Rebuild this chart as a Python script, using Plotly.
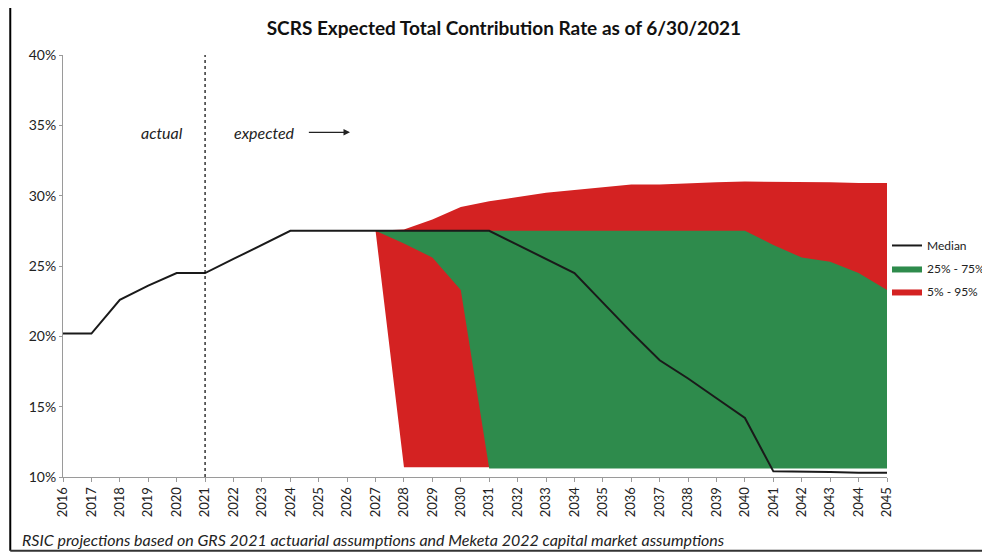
import plotly.graph_objects as go

# Data
years = list(range(2016, 2046))
median = [20.2, 20.2, 22.6, 23.6, 24.5, 24.5, 25.5, 26.5, 27.5, 27.5,
          27.5, 27.5, 27.5, 27.5, 27.5, 27.5, 26.5, 25.5, 24.5, 22.4,
          20.3, 18.3, 17.0, 15.6, 14.2, 10.4, 10.4, 10.35, 10.3, 10.3]

band_years = list(range(2027, 2046))
p5 = [27.5, 10.7, 10.7, 10.7, 10.7, 10.7, 10.7, 10.7, 10.7, 10.7,
      10.7, 10.7, 10.7, 10.7, 10.7, 10.7, 10.7, 10.7, 10.7]
p95 = [27.5, 27.6, 28.3, 29.2, 29.6, 29.9, 30.2, 30.4, 30.6, 30.8,
       30.8, 30.9, 30.95, 31.0, 31.0, 31.0, 30.95, 30.9, 30.9]
p25 = [27.5, 26.6, 25.6, 23.3, 10.6, 10.6, 10.6, 10.6, 10.6, 10.6,
       10.6, 10.6, 10.6, 10.6, 10.6, 10.6, 10.6, 10.6, 10.6]
p75 = [27.5, 27.5, 27.5, 27.5, 27.5, 27.5, 27.5, 27.5, 27.5, 27.5,
       27.5, 27.5, 27.5, 27.5, 26.5, 25.6, 25.3, 24.5, 23.3]

red = '#d42222'
green = '#2e8b4c'

fig = go.Figure()

# 5% - 95% band
fig.add_trace(go.Scatter(x=band_years, y=p5, mode='lines', line=dict(width=0, color=red),
                         showlegend=False, hoverinfo='skip', legendgroup='p5_95'))
fig.add_trace(go.Scatter(x=band_years, y=p95, mode='lines', line=dict(width=0, color=red),
                         fill='tonexty', fillcolor=red, name='5% - 95%', legendrank=3,
                         legendgroup='p5_95'))

# 25% - 75% band
fig.add_trace(go.Scatter(x=band_years, y=p25, mode='lines', line=dict(width=0, color=green),
                         showlegend=False, hoverinfo='skip', legendgroup='p25_75'))
fig.add_trace(go.Scatter(x=band_years, y=p75, mode='lines', line=dict(width=0, color=green),
                         fill='tonexty', fillcolor=green, name='25% - 75%', legendrank=2,
                         legendgroup='p25_75'))

# Median on top
fig.add_trace(go.Scatter(x=years, y=median, mode='lines', line=dict(width=2, color='#1a1a1a'),
                         name='Median', legendrank=1, legendgroup='med'))

# frame + dotted divider
fig.add_shape(type='line', xref='x', yref='y', x0=2021, x1=2021, y0=10, y1=40,
              line=dict(color='black', width=1.2, dash='dot'))
fig.add_shape(type='line', xref='paper', yref='paper', x0=-0.064, x1=-0.064, y0=-0.175, y1=1.12,
              line=dict(color='black', width=2))
fig.add_shape(type='line', xref='paper', yref='paper', x0=-0.064, x1=1.2, y0=-0.175, y1=-0.175,
              line=dict(color='#333333', width=2))
fig.add_shape(type='line', xref='paper', yref='paper', x0=-0.064, x1=1.2, y0=1.12, y1=1.12,
              line=dict(color='#aaaaaa', width=1))

fig.add_annotation(x=2019.5, y=34.5, text='<i>actual</i>', showarrow=False,
                   font=dict(size=16, color='#222222'))
fig.add_annotation(x=2023.1, y=34.5, text='<i>expected</i>', showarrow=False,
                   font=dict(size=16, color='#222222'))
fig.add_annotation(x=2026.1, y=34.5, ax=2024.6, ay=34.5, xref='x', yref='y', axref='x', ayref='y',
                   text='', showarrow=True, arrowhead=2, arrowsize=1, arrowwidth=1.3,
                   arrowcolor='#222222')
fig.add_annotation(xref='paper', yref='paper', x=-0.052, y=-0.149, xanchor='left', yanchor='middle',
                   text='<i>RSIC projections based on GRS 2021 actuarial assumptions and Meketa 2022 capital market assumptions</i>',
                   showarrow=False, font=dict(size=16, color='#222222'))

# page has an 8px body margin, so the figure is 8px smaller and margins shifted
fig.update_layout(
    title=dict(text='<b>SCRS Expected Total Contribution Rate as of 6/30/2021</b>',
               x=0.505, xanchor='center', y=0.963, yanchor='middle',
               font=dict(size=19, color='#111111')),
    font=dict(family='Lato, Open Sans, sans-serif', color='#222222'),
    width=982, height=546,
    margin=dict(l=55, r=103, t=47, b=77, autoexpand=False),
    plot_bgcolor='white', paper_bgcolor='white',
    xaxis=dict(range=[2016, 2045], tickmode='linear', dtick=1, tickangle=-90,
               showgrid=False, zeroline=False, showline=True, linecolor='#9a9a9a', linewidth=1,
               ticks='outside', ticklen=4, tickcolor='#9a9a9a', tickfont=dict(size=13)),
    yaxis=dict(range=[10, 40], tickvals=[10, 15, 20, 25, 30, 35, 40],
               ticktext=['10%', '15%', '20%', '25%', '30%', '35%', '40%'],
               showgrid=False, zeroline=False, showline=True, linecolor='#9a9a9a', linewidth=1,
               ticks='outside', ticklen=3, tickcolor='#9a9a9a', tickfont=dict(size=14)),
    legend=dict(x=1.0, y=0.583, xanchor='left', yanchor='top',
                font=dict(size=12), bgcolor='rgba(0,0,0,0)', traceorder='grouped',
                tracegroupgap=4, itemwidth=30),
    showlegend=True,
)

fig.write_html("out.html")
